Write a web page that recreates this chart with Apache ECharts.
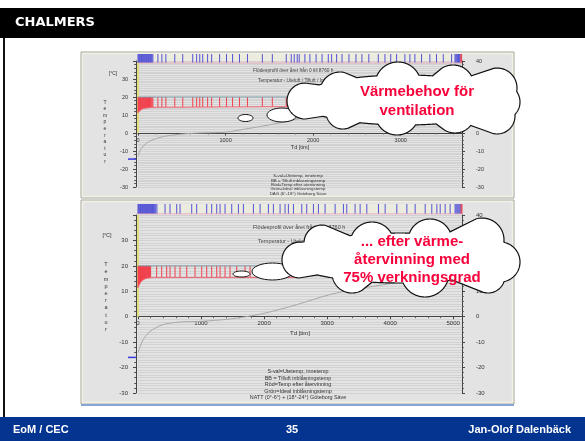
<!DOCTYPE html>
<html><head><meta charset="utf-8">
<script src="https://cdn.jsdelivr.net/npm/echarts@6/dist/echarts.min.js"></script>
<style>html,body{margin:0;padding:0;background:#fff}#c{width:585px;height:441px}</style>
</head><body><div id="c"></div>
<script>
// ---------------- DATA ----------------
const topXMax = 3700;
const bottomXMax = 5140;
const tempMin = -30, tempMax = 40;
const supplyTemp = 20;

const topStripT = [0,8,16,24,32,40,48,56,64,72,80,88,96,104,112,120,128,136,144,152,160,170,227,273,318,420,511,625,670,705,739,795,841,932,1011,1080,1159,1250,1420,1534,1693,1750,1784,1818,1841,1906,1963,2034,2102,2173,2211,2268,2330,2409,2489,2557,2636,2744,2820,2886,2953,3048,3105,3162,3238,3333,3409,3486,3581,3620,3630,3640,3650,3660,3670,3680];
const topStripEnd = [3690];
const topRed = [[0,11.2],[6,11.6],[12,12.0],[18,12.3],[24,12.6],[30,12.8],[36,13.0],[42,13.2],[48,13.3],[54,13.4],[60,13.5],[66,13.6],[72,13.7],[78,13.7],[84,13.8],[90,13.8],[96,13.9],[102,13.9],[108,14.0],[114,14.0],[120,14.0],[126,14.1],[132,14.1],[138,14.1],[144,14.2],[150,14.2],[160,14.2],[170,14.2],[227,14.3],[273,14.3],[318,14.3],[420,14.3],[511,14.3],[625,14.4],[670,14.4],[705,14.4],[739,14.4],[795,14.4],[841,14.4],[932,14.5],[1011,14.5],[1080,14.5],[1159,14.5],[1250,14.5],[1420,14.6],[1534,14.6],[1693,14.6],[1750,14.6],[1784,14.6],[1818,14.6],[1841,14.6],[1906,14.7],[1963,14.7],[2034,14.7],[2102,14.7]];
const topOutdoor = [[0,-13],[20,-10],[61,-7.2],[137,-4.4],[289,-2],[479,-0.7],[700,0],[1012,0.5],[1200,2],[1500,4.5],[1800,7.5],[2000,9.4],[2500,12],[3000,14],[3700,16.5]];
const topStartTemp = -14.5;

const bottomStripT = [0,10,20,30,40,50,60,70,80,90,100,110,120,130,140,150,160,170,180,190,200,215,230,245,260,280,300,429,508,614,667,852,931,1090,1169,1249,1302,1381,1487,1593,1672,1831,1937,2069,2148,2254,2333,2386,2466,2598,2677,2783,2862,2968,3127,3259,3312,3444,3524,3630,3815,3921,4106,4265,4397,4556,4661,4741,4794,4873,4952,5030,5045,5060,5075,5090,5105,5120];
const bottomStripEnd = [5132];
const bottomRed = [[0,11.4],[8,11.9],[16,12.4],[24,12.8],[32,13.2],[40,13.5],[48,13.8],[56,14.0],[64,14.2],[72,14.4],[80,14.5],[88,14.6],[96,14.7],[104,14.8],[112,14.9],[120,15.0],[128,15.0],[136,15.1],[144,15.1],[152,15.2],[160,15.2],[168,15.2],[176,15.3],[184,15.3],[192,15.3],[200,15.3],[296,15.4],[376,15.4],[455,15.4],[508,15.4],[587,15.4],[667,15.4],[773,15.4],[905,15.4],[1011,15.4],[1090,15.4],[1169,15.4],[1249,15.4],[1302,15.4],[1381,15.4],[1460,15.4],[1566,15.4],[1698,15.4],[1778,15.4],[1884,15.4],[1990,15.4],[2100,15.4],[2250,15.4],[2400,15.4],[2550,15.4]];
const bottomOutdoor = [[0,-14],[84,-9],[190,-5.8],[397,-3.1],[661,-2.1],[1005,-1.8],[1455,-0.9],[1958,1.1],[2513,4.7],[3042,8.7],[3500,11],[4000,13],[4500,15],[5140,17]];
const bottomStartTemp = -16;

const headerText = 'CHALMERS';
const footerLeft = 'EoM / CEC';
const footerMid = '35';
const footerRight = 'Jan-Olof Dalenbäck';
const unitLabel = '[°C]';
const yAxisWord = 'Temperatur';
const xAxisName = 'Td [tim]';
const topTitles = ['Flödesprofil över året från 0 till 8760 h', 'Temperatur - Uteluft / Tilluft / Inblåsning'];
const bottomTitles = ['Flödesprofil över året från 0 till 8760 h', 'Temperatur - Uteluft / Tilluft / Inblåsning'];
const topLegend = ['S-val=Utetemp, innetemp', 'BB = Tilluft inblåsningstemp', 'Röd=Temp efter återvinning', 'Grön=Ideal inblåsningstemp', 'DAG (6°-18°) Göteborg Säve'];
const bottomLegend = ['S-val=Utetemp, innetemp', 'BB = Tilluft inblåsningstemp', 'Röd=Temp efter återvinning', 'Grön=Ideal inblåsningstemp', 'NATT (0°-6°) + (18°-24°) Göteborg Säve'];
const cloud1Text = ['Värmebehov för', 'ventilation'];
const cloud2Text = ['... efter värme-', 'återvinning med', '75% verkningsgrad'];

// ---------------- CHART ----------------
const FONT = '"Liberation Sans", Arial, sans-serif';
const chart = echarts.init(document.getElementById('c'), null, {renderer: 'canvas'});

function vline(color, width) {
  return function (params, api) {
    const a = api.coord([api.value(0), api.value(1)]);
    const b = api.coord([api.value(0), api.value(2)]);
    return {type: 'line', shape: {x1: a[0], y1: a[1], x2: b[0], y2: b[1]}, style: {stroke: color, lineWidth: width}};
  };
}
function startMark(params, api) {
  const p = api.coord([api.value(0), api.value(1)]);
  return {type: 'line', shape: {x1: p[0] - 10, y1: p[1], x2: p[0] - 2, y2: p[1]}, style: {stroke: '#3a3ae0', lineWidth: 1.5}};
}

// x axis placed at the 0 °C level of its grid
function mainX(gi, max, gridH, gap, fs) {
  const zeroOffset = -gridH * (0 - tempMin) / (tempMax - tempMin);
  return {type: 'value', gridIndex: gi, min: 0, max: max, interval: 1000, position: 'bottom', offset: zeroOffset,
    name: xAxisName, nameLocation: 'middle', nameGap: gap, nameTextStyle: {fontSize: fs, color: '#333', fontFamily: FONT},
    axisLine: {onZero: false, lineStyle: {color: '#444', width: 1}},
    axisTick: {show: true, length: 2.5, lineStyle: {color: '#444'}},
    minorTick: {show: true, splitNumber: 5, length: 1.5, lineStyle: {color: '#666'}},
    axisLabel: {fontSize: fs, color: '#333', margin: 4, fontFamily: FONT, showMaxLabel: false, formatter: v => String(v)},
    splitLine: {show: false}};
}
function hiddenX(gi, max) {
  return {type: 'value', gridIndex: gi, min: 0, max: max, show: false};
}
function sideY(gi, pos, margin, fs, hideTop) {
  return {type: 'value', gridIndex: gi, min: tempMin, max: tempMax, interval: 10, position: pos, offset: pos === 'left' ? 2 : 0,
    axisLine: {show: true, onZero: false, lineStyle: {color: '#444'}},
    axisTick: {show: true, length: 3, lineStyle: {color: '#444'}},
    minorTick: {show: true, splitNumber: 5, length: 1.8, lineStyle: {color: '#555'}},
    axisLabel: {fontSize: fs, color: '#333', margin: margin, fontFamily: FONT,
      formatter: v => (hideTop && v === tempMax) ? '' : String(v)},
    splitLine: {show: false}};
}
function stripeY(gi) {
  return {type: 'value', gridIndex: gi, min: tempMin, max: tempMax, interval: 1, position: 'left',
    axisLine: {show: false, onZero: false}, axisTick: {show: false}, axisLabel: {show: false},
    splitLine: {show: true, lineStyle: {color: '#d2d2d2', width: 1}}};
}
function stripY(gi) {
  return {type: 'value', gridIndex: gi, min: 0, max: 1, show: false};
}

function lineSeries(xi, yi, data, color, width, smooth, z) {
  return {type: 'line', xAxisIndex: xi, yAxisIndex: yi, data: data, symbol: 'none', smooth: smooth || false,
    lineStyle: {color: color, width: width}, silent: true, animation: false, z: z || 2};
}
function customSeries(xi, yi, data, render, z) {
  return {type: 'custom', xAxisIndex: xi, yAxisIndex: yi, data: data, renderItem: render,
    encode: {x: 0, y: [1, 2]}, silent: true, animation: false, clip: false, z: z || 3};
}

// cloud outline = outer envelope of a core ellipse plus puffs, seen from the cloud centre
function cloud(puffs, cx, cy, rx, ry) {
  const pts = [];
  const N = 900;
  for (let k = 0; k < N; k++) {
    const a = 2 * Math.PI * k / N;
    const ux = Math.cos(a), uy = Math.sin(a);
    let best = 1 / Math.sqrt((ux / rx) * (ux / rx) + (uy / ry) * (uy / ry));
    puffs.forEach(p => {
      const dx = p[0] - cx, dy = p[1] - cy;
      const b = ux * dx + uy * dy;
      const disc = b * b - (dx * dx + dy * dy - p[2] * p[2]);
      if (disc >= 0) { const t = b + Math.sqrt(disc); if (t > best) best = t; }
    });
    pts.push([cx + ux * best, cy + uy * best]);
  }
  return {type: 'polygon', z: 92, shape: {points: pts}, style: {fill: '#fff', stroke: '#111', lineWidth: 1.2}};
}
function tail(cx, cy, rx, ry) {
  return {type: 'ellipse', z: 90, shape: {cx: cx, cy: cy, rx: rx, ry: ry}, style: {fill: '#fff', stroke: '#111', lineWidth: 1}};
}
function txt(x, y, text, font, color, align, z) {
  return {type: 'text', z: z || 50, style: {text: text, x: x, y: y, font: font, fill: color,
    textAlign: align || 'left', textVerticalAlign: 'middle'}};
}

const graphics = [];
// slide chrome
graphics.push({type: 'rect', z: -100, shape: {x: 0, y: 8, width: 585, height: 30}, style: {fill: '#000'}});
graphics.push(txt(15, 23, headerText, 'bold 13px "DejaVu Sans", sans-serif', '#fff'));
graphics.push({type: 'rect', z: -100, shape: {x: 3, y: 38, width: 2, height: 379}, style: {fill: '#111'}});
graphics.push({type: 'rect', z: -100, shape: {x: 0, y: 417, width: 585, height: 24}, style: {fill: '#023490'}});
graphics.push(txt(13, 430, footerLeft, 'bold 11px ' + FONT, '#fff'));
graphics.push(txt(292, 430, footerMid, 'bold 11px ' + FONT, '#fff', 'center'));
graphics.push(txt(571, 430, footerRight, 'bold 11px ' + FONT, '#fff', 'right'));
// panels
[[81, 52, 433, 146], [81, 200, 433, 204]].forEach(r => {
  graphics.push({type: 'rect', z: -90, shape: {x: r[0], y: r[1], width: r[2], height: r[3]}, style: {fill: '#e3e3e3', stroke: '#a4a49a', lineWidth: 1}});
  graphics.push({type: 'rect', z: -89, shape: {x: r[0] + 1.5, y: r[1] + 1.5, width: r[2] - 3, height: r[3] - 3}, style: {fill: 'none', stroke: '#f1f0e4', lineWidth: 1.5}});
});
graphics.push({type: 'rect', z: -80, shape: {x: 81, y: 404, width: 433, height: 2}, style: {fill: '#86a4d8'}});
// panel texts
graphics.push(txt(113, 74, unitLabel, '5px ' + FONT, '#333', 'center'));
graphics.push(txt(107, 235, unitLabel, '5.5px ' + FONT, '#333', 'center'));
graphics.push({type: 'text', z: 50, style: {text: yAxisWord.split('').join('\n'), x: 105, y: 132, font: '5px ' + FONT, fill: '#333', lineHeight: 6.6, textAlign: 'center', textVerticalAlign: 'middle'}});
graphics.push({type: 'text', z: 50, style: {text: yAxisWord.split('').join('\n'), x: 106, y: 297, font: '5.5px ' + FONT, fill: '#333', lineHeight: 7.2, textAlign: 'center', textVerticalAlign: 'middle'}});
graphics.push(txt(253, 71, topTitles[0], '4.8px ' + FONT, '#444'));
graphics.push(txt(258, 81, topTitles[1], '4.8px ' + FONT, '#444'));
graphics.push(txt(253, 227, bottomTitles[0], '5.5px ' + FONT, '#444'));
graphics.push(txt(258, 241, bottomTitles[1], '5.5px ' + FONT, '#444'));
topLegend.forEach((s, i) => graphics.push(txt(298, 176 + i * 4.4, s, '4.4px ' + FONT, '#333', 'center')));
bottomLegend.forEach((s, i) => graphics.push(txt(298, 372 + i * 6.5, s, '5.4px ' + FONT, '#333', 'center')));
// clouds
graphics.push(tail(245.5, 118, 7.5, 3.5));
graphics.push(tail(282, 115, 15, 7));
graphics.push(cloud([[340, 92, 20], [398, 85, 23], [453, 86, 21], [497, 88, 20], [502, 102, 18], [497, 116, 18], [455, 113, 20], [397, 113, 22], [343, 112, 17], [305, 101, 18]], 405, 100, 108, 25));
graphics.push(tail(241.5, 274, 8.5, 3));
graphics.push(tail(272.5, 271.5, 20.5, 8.5));
graphics.push(cloud([[322, 243, 18], [372, 244, 22], [430, 241, 22], [482, 240, 22], [500, 262, 20], [488, 276, 17], [425, 273, 24], [352, 273, 20], [300, 260, 18]], 400, 258, 112, 25));
const CF = 'bold 15px ' + FONT;
graphics.push(txt(417, 92, cloud1Text[0], CF, '#f8003a', 'center', 120));
graphics.push(txt(417, 111, cloud1Text[1], CF, '#f8003a', 'center', 120));
cloud2Text.forEach((s, i) => graphics.push(txt(412, 242 + i * 18, s, CF, '#f8003a', 'center', 120)));

const series = [
  // top chart
  lineSeries(0, 0, [[0, 0], [0, tempMax]], '#e6dc5a', 1.5, false, 1),
  customSeries(0, 0, topRed.map(p => [p[0], supplyTemp, p[1]]), vline('#f2404e', 1), 3),
  lineSeries(0, 0, topRed, '#f06878', 1, false, 4),
  lineSeries(0, 0, [[0, supplyTemp], [topXMax, supplyTemp]], '#7f9aa8', 1, false, 5),
  lineSeries(0, 0, topOutdoor, '#a8a8a8', 1, 0.3, 5),
  customSeries(0, 0, [[0, topStartTemp]], startMark, 6),
  customSeries(1, 3, topStripT.map(t => [t, 0, 1]), vline('#5454d6', 1), 3),
  customSeries(1, 3, topStripEnd.map(t => [t, 0, 1]), vline('#e05060', 2), 4),
  lineSeries(1, 3, [[0, 0], [topXMax, 0]], '#e8a0b4', 1, false, 5),
  // bottom chart
  lineSeries(2, 4, [[0, 0], [0, tempMax]], '#e6dc5a', 1.5, false, 1),
  customSeries(2, 4, bottomRed.map(p => [p[0], supplyTemp, p[1]]), vline('#f2404e', 1), 3),
  lineSeries(2, 4, bottomRed, '#f06878', 1, false, 4),
  lineSeries(2, 4, [[0, supplyTemp], [bottomXMax, supplyTemp]], '#7f9aa8', 1, false, 5),
  lineSeries(2, 4, bottomOutdoor, '#a8a8a8', 1, 0.3, 5),
  customSeries(2, 4, [[0, bottomStartTemp]], startMark, 6),
  customSeries(3, 7, bottomStripT.map(t => [t, 0, 1]), vline('#5454d6', 1), 3),
  customSeries(3, 7, bottomStripEnd.map(t => [t, 0, 1]), vline('#e05060', 2), 4),
  lineSeries(3, 7, [[0, 0], [bottomXMax, 0]], '#e8a0b4', 1, false, 5)
];

chart.setOption({
  animation: false,
  backgroundColor: '#fff',
  textStyle: {fontFamily: FONT},
  grid: [
    {left: 138, top: 61, width: 324, height: 126},
    {left: 138, top: 54, width: 324, height: 9, show: true, backgroundColor: '#ecebe0', borderWidth: 0},
    {left: 138, top: 215, width: 324, height: 178},
    {left: 138, top: 204, width: 324, height: 10, show: true, backgroundColor: '#ecebe0', borderWidth: 0}
  ],
  xAxis: [mainX(0, topXMax, 126, 11, 5.5), hiddenX(1, topXMax), mainX(2, bottomXMax, 178, 14, 6), hiddenX(3, bottomXMax)],
  yAxis: [
    sideY(0, 'left', 8, 5.5, true), sideY(0, 'right', 14, 5.5, false), stripeY(0), stripY(1),
    sideY(2, 'left', 8, 6, true), sideY(2, 'right', 14, 6, false), stripeY(2), stripY(3)
  ],
  series: series,
  graphic: {elements: graphics}
});
</script>
</body></html>
